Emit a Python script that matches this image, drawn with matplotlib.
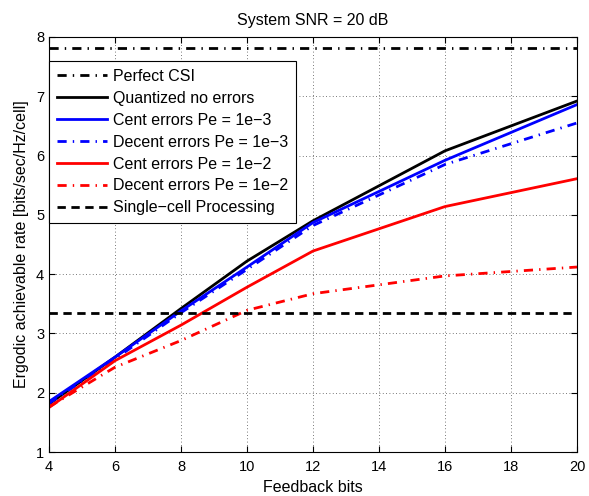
import matplotlib
matplotlib.use('Agg')
import matplotlib.pyplot as plt

plt.rcParams['font.family'] = ['Liberation Sans', 'DejaVu Sans']
plt.rcParams['font.size'] = 11.5

bits = [4, 6, 8, 10, 12, 16, 20]
quant_no_err = [1.81, 2.60, 3.42, 4.22, 4.90, 6.08, 6.92]
cent_1e3 = [1.85, 2.60, 3.38, 4.12, 4.87, 5.92, 6.86]
decent_1e3 = [1.82, 2.57, 3.35, 4.08, 4.82, 5.85, 6.55]
cent_1e2 = [1.75, 2.54, 3.14, 3.78, 4.39, 5.14, 5.61]
decent_1e2 = [1.76, 2.43, 2.88, 3.39, 3.67, 3.97, 4.12]
perfect_csi = 7.82
single_cell = 3.35

dashdot = (3.3, 2.2, 0.5, 2.2)
dashed = (3, 2)

fig = plt.figure(figsize=(5.89, 4.96), dpi=100)
ax = fig.add_axes([49 / 589, 1 - 452 / 496, 528 / 589, 415 / 496])

ax.plot([4, 20], [perfect_csi, perfect_csi], color='black', lw=2, dashes=dashdot, label='Perfect CSI')
ax.plot(bits, quant_no_err, color='black', lw=2, label='Quantized no errors')
ax.plot(bits, cent_1e3, color='blue', lw=2, label='Cent errors Pe = 1e\u22123')
ax.plot(bits, decent_1e3, color='blue', lw=2, dashes=dashdot, label='Decent errors Pe = 1e\u22123')
ax.plot(bits, cent_1e2, color='red', lw=2, label='Cent errors Pe = 1e\u22122')
ax.plot(bits, decent_1e2, color='red', lw=2, dashes=dashdot, label='Decent errors Pe = 1e\u22122')
ax.plot([4, 20], [single_cell, single_cell], color='black', lw=2, dashes=dashed, label='Single\u2212cell Processing')

ax.set_xlim(4, 20)
ax.set_ylim(1, 8)
ax.set_xticks(range(4, 21, 2))
ax.set_yticks(range(1, 9))
ax.tick_params(direction='in', top=True, right=True, length=4, labelsize=10.5)
ax.tick_params(axis='x', pad=6)
ax.grid(True, linestyle=(0, (1, 3)), color='black', lw=0.6, alpha=0.7)

ax.set_xlabel('Feedback bits', labelpad=4)
ax.set_ylabel('Ergodic achievable rate [bits/sec/Hz/cell]', labelpad=5)
ax.set_title('System SNR = 20 dB', fontsize=11.5, pad=8.5)

leg = ax.legend(loc='upper left', bbox_to_anchor=(0.0, 0.942), fancybox=False,
                edgecolor='black', framealpha=1, handlelength=3.1, borderpad=0.5,
                labelspacing=0.43, handletextpad=0.4, borderaxespad=0)
leg.get_frame().set_linewidth(0.8)

fig.savefig('out.png', dpi=100)
